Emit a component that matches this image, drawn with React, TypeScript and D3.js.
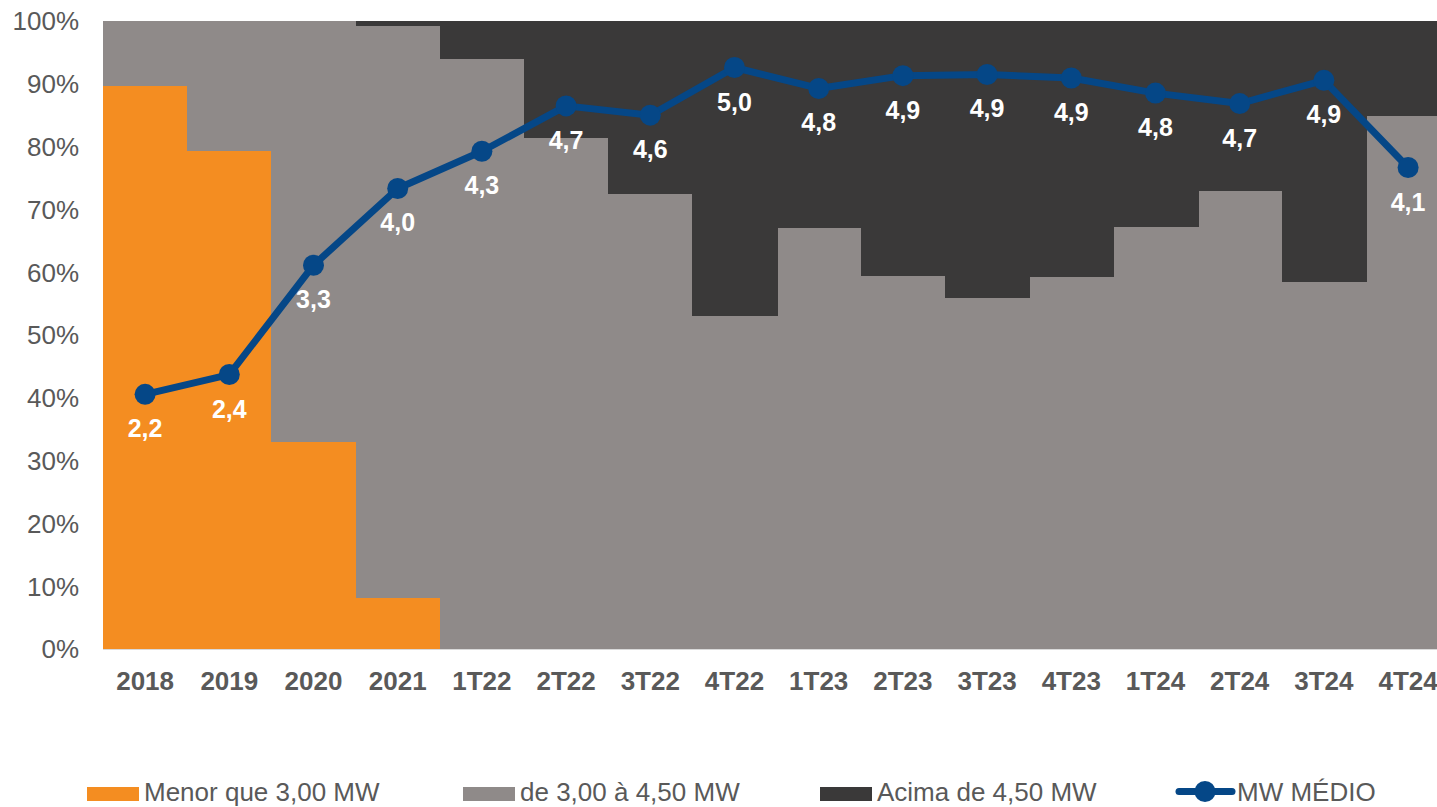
import React from "react";
import * as d3 from "d3";

// Periods on the x axis
const categories = [
  "2018", "2019", "2020", "2021", "1T22", "2T22", "3T22", "4T22",
  "1T23", "2T23", "3T23", "4T23", "1T24", "2T24", "3T24", "4T24",
];

// Share of turbines by nominal power (% of total)
const menorQue300 = [89.6, 79.3, 33.0, 8.1, 0, 0, 0, 0, 0, 0, 0, 0, 0, 0, 0, 0];
const de300a450 = [10.4, 20.7, 67.0, 91.1, 94.0, 81.4, 72.5, 53.0, 67.0, 59.4, 55.9, 59.2, 67.2, 72.9, 58.4, 84.9];
const acima450 = [0, 0, 0, 0.8, 6.0, 18.6, 27.5, 47.0, 33.0, 40.6, 44.1, 40.8, 32.8, 27.1, 41.6, 15.1];

// Average turbine power (MW), on a hidden secondary axis
const mwMedio = [2.19, 2.36, 3.3, 3.96, 4.28, 4.67, 4.59, 5.0, 4.82, 4.93, 4.94, 4.91, 4.78, 4.69, 4.89, 4.14];

const yTicks = [0, 10, 20, 30, 40, 50, 60, 70, 80, 90, 100];

const seriesNames = ["Menor que 3,00 MW", "de 3,00 à 4,50 MW", "Acima de 4,50 MW"];
const lineName = "MW MÉDIO";

const COLORS = ["#F48D21", "#8F8A89", "#3A3939"];
const LINE_COLOR = "#054787";
const TEXT_COLOR = "#595959";
const FONT = "'Liberation Sans', Arial, sans-serif";

const W = 1437;
const H = 807;
const plotLeft = 103;
const plotTop = 21;
const plotBottom = 649;
const band = 84.2;

export default function App() {
  const x = d3
    .scaleBand<string>()
    .domain(categories)
    .range([plotLeft, plotLeft + band * categories.length])
    .paddingInner(0)
    .paddingOuter(0);
  const y = d3.scaleLinear().domain([0, 100]).range([plotBottom, plotTop]);
  const y2 = d3.scaleLinear().domain([0, 5.4]).range([plotBottom, plotTop]);

  const rows = categories.map((c, i) => ({
    cat: c,
    a: menorQue300[i],
    b: de300a450[i],
    c: acima450[i],
  }));
  const stack = d3.stack<any>().keys(["a", "b", "c"]);
  const layers = stack(rows);

  const line = d3
    .line<number>()
    .x((_, i) => (x(categories[i]) as number) + x.bandwidth() / 2)
    .y((v) => y2(v));

  const fmt = (v: number) => d3.format(".1f")(v).replace(".", ",");

  const legendRects = [87, 463, 820];

  return (
    <svg
      width={W}
      height={H}
      style={{ position: "absolute", left: 0, top: 0, background: "#fff" }}
      fontFamily={FONT}
    >
      {/* stacked bars, drawn edge to edge */}
      <g shapeRendering="crispEdges">
        {layers.map((layer, li) =>
          layer.map((d, i) => {
            const h = y(d[0]) - y(d[1]);
            if (h <= 0) return null;
            return (
              <rect
                key={`${li}-${i}`}
                x={x(categories[i])}
                y={y(d[1])}
                width={x.bandwidth() + 1}
                height={h}
                fill={COLORS[li]}
              />
            );
          })
        )}
      </g>

      {/* axis line */}
      <line x1={plotLeft} x2={W} y1={plotBottom + 0.5} y2={plotBottom + 0.5} stroke="#D9D9D9" strokeWidth={1.2} />

      {/* y axis labels */}
      {yTicks.map((t) => (
        <text
          key={t}
          x={79}
          y={y(t)}
          dy="0.36em"
          textAnchor="end"
          fontSize={26}
          fill={TEXT_COLOR}
        >
          {t}%
        </text>
      ))}

      {/* x axis labels */}
      {categories.map((c) => (
        <text
          key={c}
          x={(x(c) as number) + x.bandwidth() / 2}
          y={690}
          textAnchor="middle"
          fontSize={26}
          fontWeight="bold"
          fill={TEXT_COLOR}
        >
          {c}
        </text>
      ))}

      {/* average MW line */}
      <path d={line(mwMedio) || ""} fill="none" stroke={LINE_COLOR} strokeWidth={7} strokeLinejoin="round" />
      {mwMedio.map((v, i) => (
        <circle
          key={i}
          cx={(x(categories[i]) as number) + x.bandwidth() / 2}
          cy={y2(v)}
          r={10.5}
          fill={LINE_COLOR}
        />
      ))}
      {mwMedio.map((v, i) => (
        <text
          key={i}
          x={(x(categories[i]) as number) + x.bandwidth() / 2}
          y={y2(v) + 43}
          textAnchor="middle"
          fontSize={25}
          fontWeight="bold"
          fill="#ffffff"
        >
          {fmt(v)}
        </text>
      ))}

      {/* legend */}
      {seriesNames.map((name, i) => (
        <g key={name}>
          <rect x={legendRects[i]} y={787} width={52} height={14} fill={COLORS[i]} />
          <text x={legendRects[i] + 57} y={801} fontSize={26} fill={TEXT_COLOR}>
            {name}
          </text>
        </g>
      ))}
      <g>
        <line x1={1179} x2={1232} y1={791.5} y2={791.5} stroke={LINE_COLOR} strokeWidth={7} strokeLinecap="round" />
        <circle cx={1205} cy={791.5} r={10.5} fill={LINE_COLOR} />
        <text x={1237} y={801} fontSize={26} fill={TEXT_COLOR}>
          {lineName}
        </text>
      </g>
    </svg>
  );
}
